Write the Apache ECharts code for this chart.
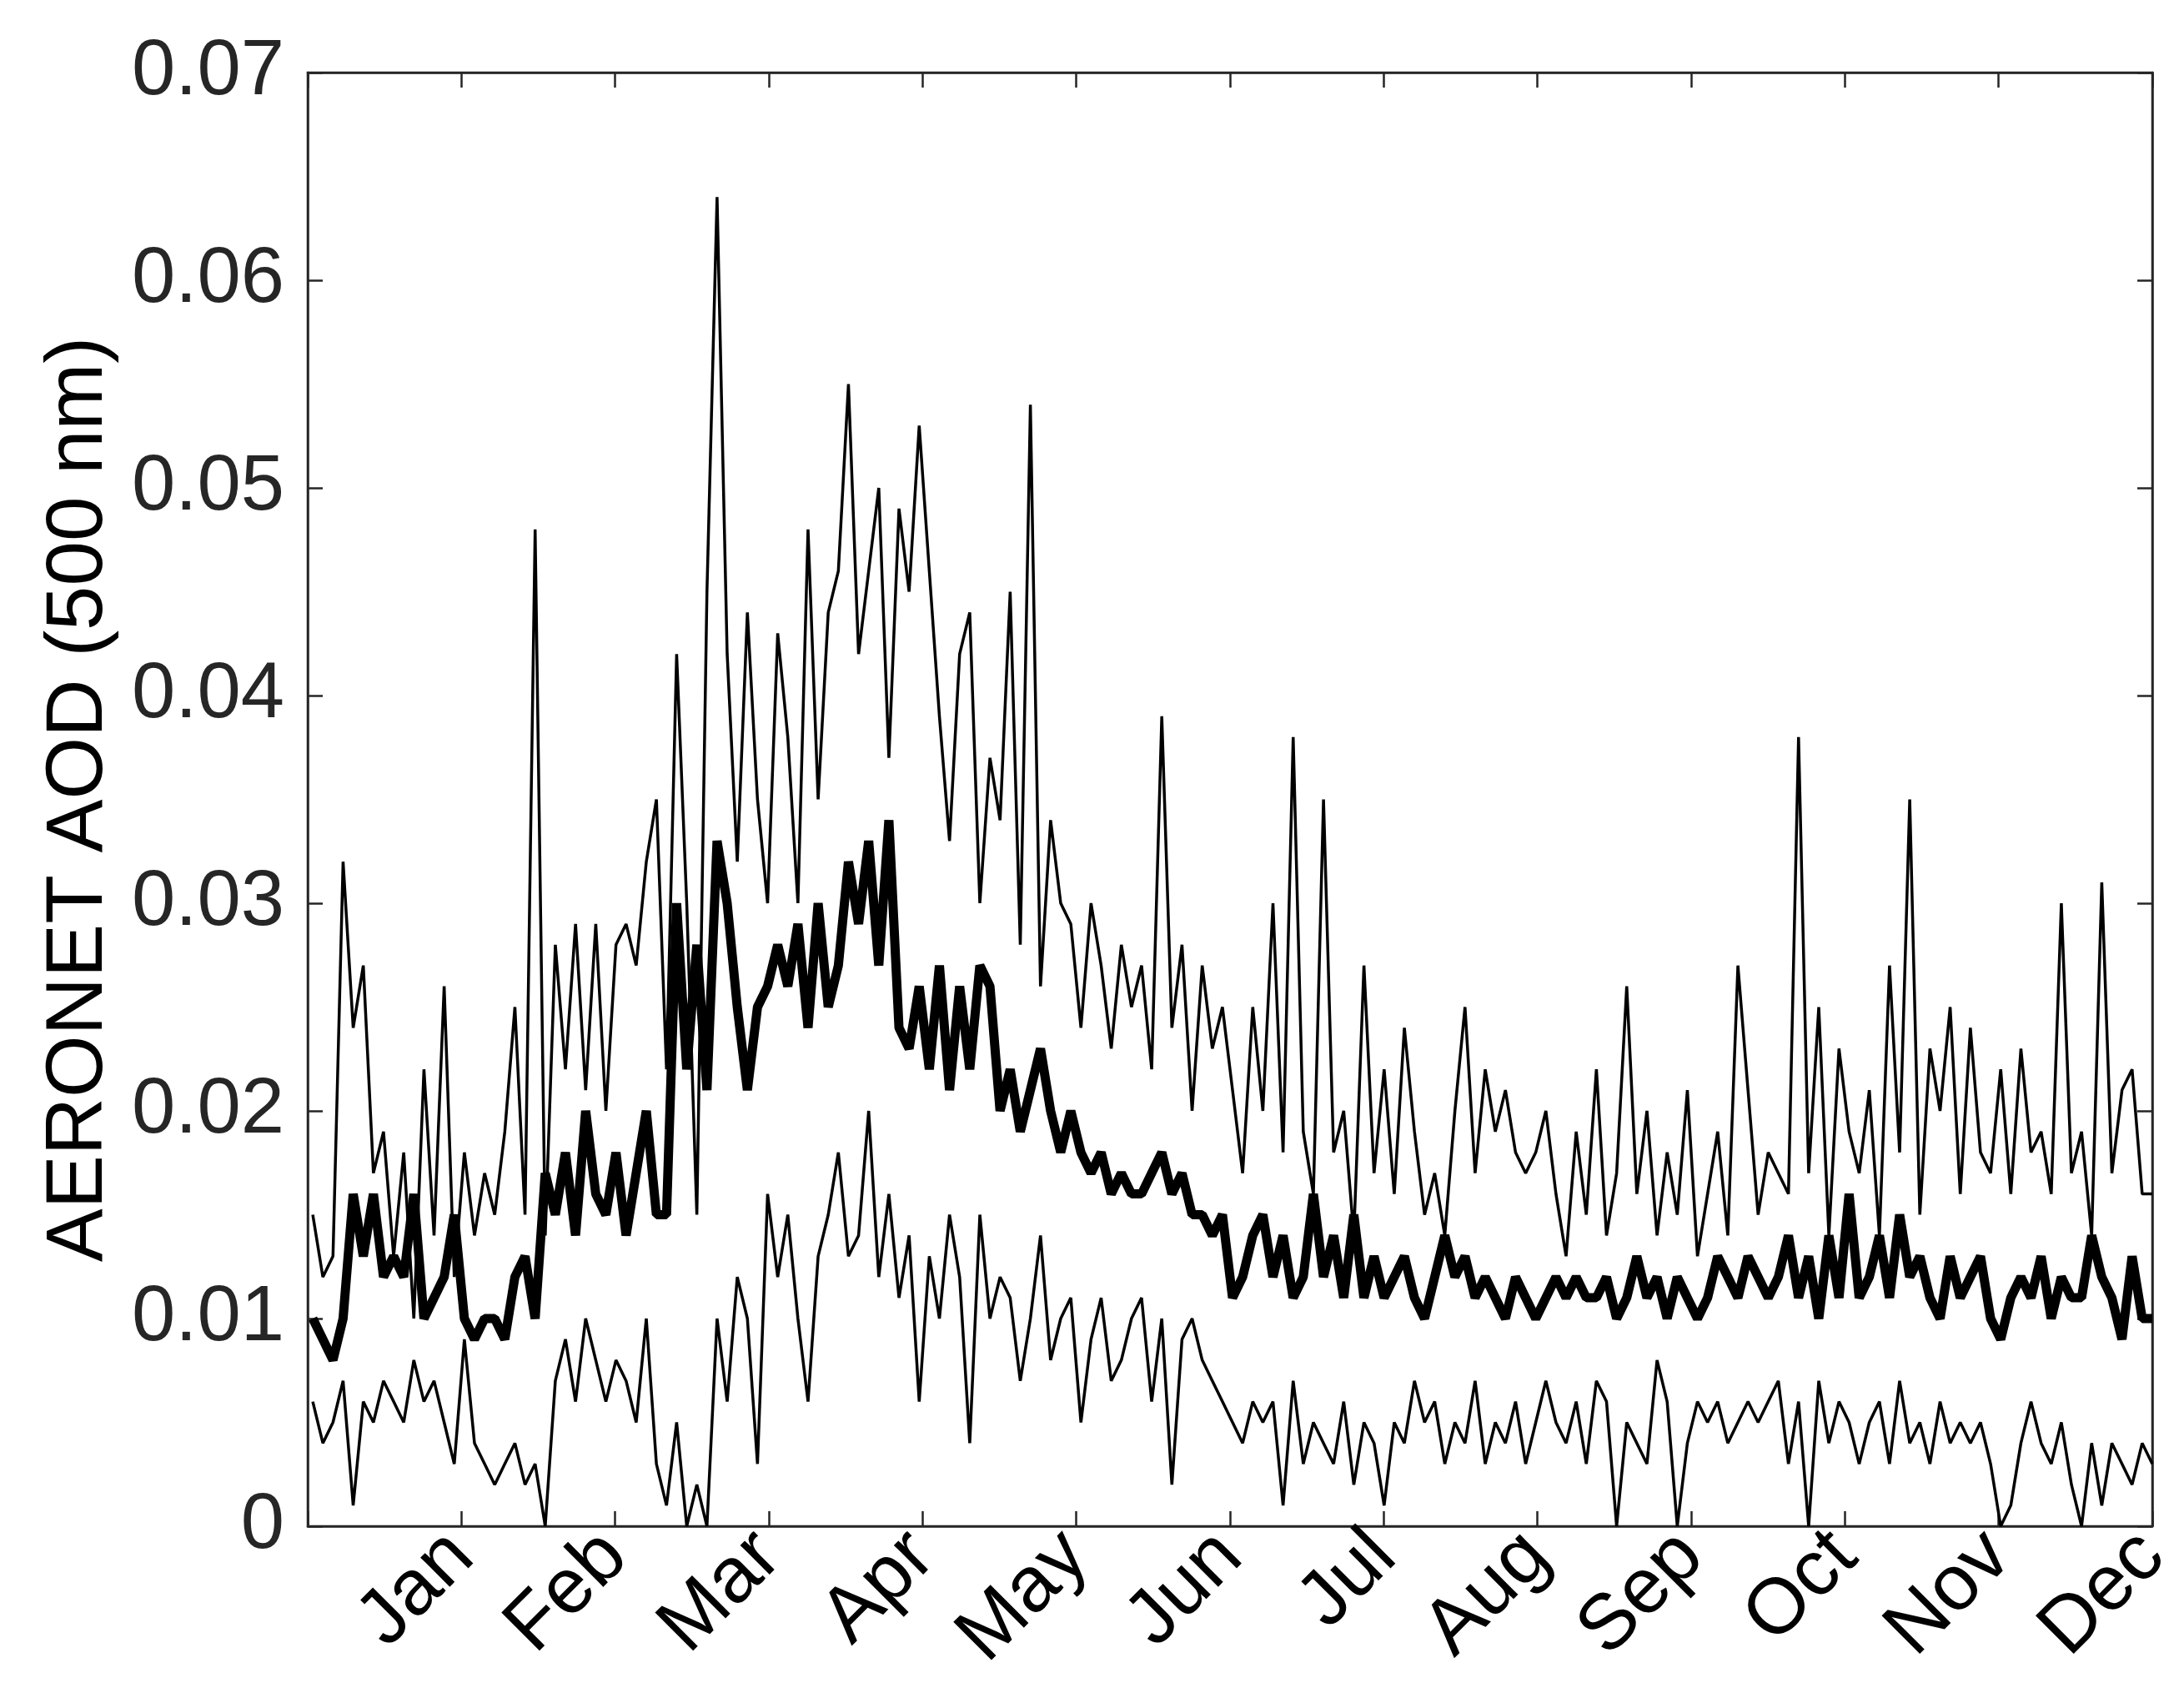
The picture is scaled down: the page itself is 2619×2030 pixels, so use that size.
<!DOCTYPE html>
<html>
<head>
<meta charset="utf-8">
<script src="https://cdn.jsdelivr.net/npm/echarts@6/dist/echarts.min.js"></script>
<style>html,body{margin:0;background:#fff}#c{width:2619px;height:2030px}</style>
</head>
<body>
<div id="c"></div>
<script>
// values in units of 0.001 AOD, sampled every 2 days (day 1, 3, ..., 365)
var months = ['Jan','Feb','Mar','Apr','May','Jun','Jul','Aug','Sep','Oct','Nov','Dec']
var yTicks = ['0','0.01','0.02','0.03','0.04','0.05','0.06','0.07']
var meanVals = [
	10,9,8,10,16,13,16,12,13,12,16,10,11,12,15,10,
	9,10,10,9,12,13,10,17,15,18,14,20,16,15,
	18,14,17,20,15,15,30,22,28,21,33,30,25,21,25,26,
	28,26,29,24,30,25,27,32,29,33,27,34,24,23,26,
	22,27,21,26,22,27,26,20,22,19,21,23,20,18,20,18,
	17,18,16,17,16,16,17,18,16,17,15,15,14,15,11,
	12,14,15,12,14,11,12,16,12,14,11,15,11,13,11,12,
	13,11,10,12,14,12,13,11,12,11,10,12,11,10,11,
	12,11,12,11,11,12,10,11,13,11,12,10,12,11,10,
	11,13,12,11,13,12,11,12,14,11,13,10,14,11,16,11,
	12,14,11,15,12,13,11,10,13,11,12,13,10,9,11,
	12,11,13,10,12,11,11,14,12,11,9,13,10,10
]
var upperVals = [
	15,12,13,32,24,27,17,19,13,18,10,22,14,26,12,18,
	14,17,15,19,25,15,48,14,28,22,29,21,29,20,
	28,29,27,32,35,22,42,30,15,45,64,42,32,44,35,30,
	43,38,30,48,35,44,46,55,42,46,50,37,49,45,53,
	46,39,33,42,44,30,37,34,45,28,54,26,34,30,29,24,
	30,27,23,28,25,27,22,39,24,28,20,27,23,25,21,
	17,25,20,30,18,38,19,16,35,18,20,14,27,17,22,16,
	24,19,15,17,14,20,25,17,22,19,21,18,17,18,20,
	16,13,19,15,22,14,17,26,16,20,14,18,15,21,13,
	16,19,14,27,21,15,18,17,16,38,17,25,14,23,19,17,
	21,14,27,18,35,15,23,20,25,16,24,18,17,22,16,
	23,18,19,16,30,17,19,14,31,17,21,22,16,16
]
var lowerVals = [
	6,4,5,7,1,6,5,7,6,5,8,6,7,5,3,9,
	4,3,2,3,4,2,3,0,7,9,6,10,8,6,
	8,7,5,10,3,1,5,0,2,0,10,6,12,10,3,16,
	12,15,10,6,13,15,18,13,14,20,12,16,11,14,6,
	13,10,15,12,4,15,10,12,11,7,10,14,8,10,11,5,
	9,11,7,8,10,11,6,10,2,9,10,8,7,6,5,
	4,6,5,6,1,7,3,5,4,3,6,2,5,4,1,5,
	4,7,5,6,3,5,4,7,3,5,4,6,3,5,7,
	5,4,6,3,7,6,0,5,4,3,8,6,0,4,6,
	5,6,4,5,6,5,6,7,3,6,0,7,4,6,5,3,
	5,6,3,7,4,5,3,6,4,5,4,5,3,0,1,
	4,6,4,3,5,2,0,4,1,4,3,2,4,3
]

// x in months (0..12), tick k sits at end of month k
const toPts = arr => arr.map((v, i) => [(1 + 2 * i) / 365 * 12, v / 1000])

var myChart = echarts.init(document.getElementById('c'))
var axisCol = '#262626'
var font = 'Helvetica, Arial, "Liberation Sans", sans-serif'
var lineSeries = (arr, w) => ({
	type: 'line', data: toPts(arr), showSymbol: false, symbol: 'none',
	lineStyle: { color: '#000', width: w }, animation: false, xAxisIndex: 0, yAxisIndex: 0
})
var lineCfg = { onZero: false, lineStyle: { color: axisCol, width: 2.5 } }
var tickCfg = { show: true, inside: true, length: 18, lineStyle: { color: axisCol, width: 2.5 } }
var option = {
	backgroundColor: '#fff',
	grid: { left: 369, right: 38, top: 87, bottom: 200, show: true, borderColor: axisCol, borderWidth: 2.5 },
	xAxis: [
		{
			type: 'value', min: 0, max: 12, interval: 1,
			axisLine: lineCfg, axisTick: tickCfg, splitLine: { show: false },
			axisLabel: {
				rotate: 45, fontSize: 94, color: '#000', fontFamily: font, margin: 22,
				formatter: v => (v >= 1 ? months[v - 1] : '')
			}
		},
		{
			type: 'value', min: 0, max: 12, interval: 1, position: 'top',
			axisLine: lineCfg, axisTick: tickCfg,
			axisLabel: { show: false }, splitLine: { show: false }
		}
	],
	yAxis: [
		{
			type: 'value', min: 0, max: 0.07, interval: 0.01,
			name: 'AERONET AOD (500 nm)', nameLocation: 'middle', nameGap: 225,
			nameTextStyle: { fontSize: 96, color: '#000', fontFamily: font },
			axisLine: Object.assign({ show: true }, lineCfg), axisTick: tickCfg,
			splitLine: { show: false },
			axisLabel: {
				fontSize: 94, color: '#262626', fontFamily: font, margin: 28,
				formatter: v => yTicks[Math.round(v * 100)]
			}
		},
		{
			type: 'value', min: 0, max: 0.07, interval: 0.01, position: 'right',
			axisLine: Object.assign({ show: true }, lineCfg), axisTick: tickCfg,
			axisLabel: { show: false }, splitLine: { show: false }
		}
	],
	series: [
		lineSeries(upperVals, 3.5),
		lineSeries(lowerVals, 3.5),
		lineSeries(meanVals, 11)
	]
}
myChart.setOption(option)
</script>
</body>
</html>
